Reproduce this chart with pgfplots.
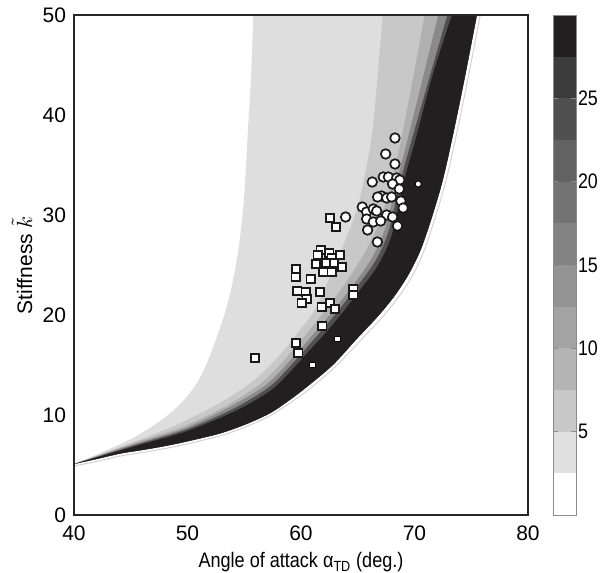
\documentclass[border=0pt]{standalone}
\usepackage{pgfplots}
\pgfplotsset{compat=1.18}
\usepgfplotslibrary{fillbetween}
\usepackage{fontspec}
\setmainfont{Liberation Sans}
\definecolor{cA}{RGB}{222,222,222}
\definecolor{cB}{RGB}{200,200,200}
\definecolor{cC}{RGB}{176,176,176}
\definecolor{cD}{RGB}{138,138,138}
\definecolor{cE}{RGB}{80,80,80}
\definecolor{cF}{RGB}{35,31,32}
\newcommand{\fs}{\fontsize{10.5}{12}\selectfont}
\begin{document}
\begin{tikzpicture}
\begin{axis}[
  name=main,
  scale only axis, width=227pt, height=250pt,
  xmin=40, xmax=80, ymin=0, ymax=50,
  xtick={40,50,60,70,80}, ytick={0,10,20,30,40,50},
  tick style={draw=none},
  axis on top,
  axis line style={line width=0.8pt, black!85},
  /pgf/number format/assume math mode=true,
  ticklabel style={font=\fs},
  xticklabel style={yshift=-1.8pt},
  yticklabel style={xshift=-0.5pt},
  xlabel={Angle of attack α\textsubscript{TD} (deg.)},
  ylabel={Stiffness $\tilde{k}$},
  xlabel style={font=\fs, at={(axis description cs:0.5,0)}, anchor=base, yshift=-26.5pt, xscale=0.86},
  ylabel style={font=\fs, at={(axis description cs:-0.1145,0.5)}, anchor=center},
]
% boundary curves
\addplot[draw=none, smooth, tension=0.5, name path=R] coordinates {
 (40,5.1)(42,5.6)(44.1,6.15)(46.3,6.55)(48.5,7.0)(50.7,7.55)(53,8.2)(55.2,9.1)(57.3,10.2)(59,11.5)(60.5,12.8)(62.8,15.0)(64.9,17.6)(66.8,19.9)(68.3,22.0)(69.5,24.1)(70.5,26.4)(71.4,29.3)(72.4,33.1)(73.2,37)(74.3,43)(75.5,50)};
\addplot[draw=none, smooth, tension=0.6, name path=L1] coordinates {
 (40,5.1)(41.3,5.7)(42.6,6.35)(44.1,7.1)(45.6,7.95)(47,8.95)(48.4,10.1)(49.6,11.4)(50.6,12.8)(51.4,14.4)(52.1,16.3)(52.8,18.5)(53.5,21)(54.1,24)(54.6,27.5)(55.0,32)(55.3,38)(55.6,44)(55.8,50)};
\addplot[draw=none, smooth, tension=0.5, name path=L2] coordinates {
 (40,5.1)(45,7.2)(49,9.0)(53,11.3)(56,13.6)(58.3,16.2)(59.9,18.5)(61.2,20.5)(63.2,25.5)(64.9,30.5)(65.8,35)(66.4,39.5)(67.2,50)};
\addplot[draw=none, smooth, tension=0.5, name path=L3] coordinates {
 (40,5.1)(45,7.1)(49.5,8.8)(53.4,10.9)(56.5,13.2)(58.6,15.6)(60.6,18.3)(62.1,20.4)(63.8,23)(65.5,26)(66.9,29.2)(67.9,33.1)(69.0,38.5)(70.9,50)};
\addplot[draw=none, smooth, tension=0.5, name path=L4] coordinates {
 (40,5.1)(45.2,7.05)(49.8,8.7)(53.7,10.8)(56.9,13.0)(59.0,15.4)(61.1,18.1)(62.6,20.1)(64.4,22.7)(66.2,25.6)(67.4,28.6)(68.4,33.1)(69.6,38.5)(72.1,50)};
\addplot[draw=none, smooth, tension=0.5, name path=L5] coordinates {
 (40,5.1)(45.4,7.0)(50,8.6)(54,10.6)(57.2,12.8)(59.3,15.2)(61.4,17.9)(62.9,19.9)(64.7,22.5)(66.5,25.3)(67.7,28.3)(68.7,33.1)(70.0,38.5)(72.9,50)};
\addplot[draw=none, smooth, tension=0.5, name path=B] coordinates {
 (40,5.1)(45.6,6.95)(50,8.4)(54.4,10.5)(57.5,12.6)(59.6,15.0)(60.7,16.4)(61.7,17.6)(63.2,19.6)(65,22.2)(66.8,25.0)(68.0,28.0)(69.0,33.1)(70.2,38)(71.6,44)(73.3,50)};
\addplot[fill=cA, draw=none] fill between[of=L1 and R];
\addplot[fill=cB, draw=none] fill between[of=L2 and R];
\addplot[fill=cC, draw=none] fill between[of=L3 and R];
\addplot[fill=cD, draw=none] fill between[of=L4 and R];
\addplot[fill=cE, draw=none] fill between[of=L5 and R];
\addplot[fill=cF, draw=none] fill between[of=B and R];
% faint outer edge line
\addplot[gray!35, line width=0.5pt, smooth, tension=0.5] coordinates {
 (40,4.9)(42,5.35)(44.1,5.9)(46.3,6.3)(48.5,6.75)(50.7,7.3)(53,7.95)(55.2,8.85)(57.3,9.95)(59.1,11.25)(60.7,12.55)(63.0,14.8)(65.2,17.4)(67.1,19.7)(68.6,21.8)(69.8,23.9)(70.8,26.3)(71.7,29.3)(72.7,33.1)(73.5,37)(74.6,43)(75.8,50)};
% squares
\addplot[only marks, mark=square*, mark size=2.1pt, mark options={fill=white, draw=black!90, line width=0.85pt}] coordinates {
 (61.73,26.5)(62.49,26.2)(61.47,26.0)(63.44,26.0)(62.7,25.7)(61.32,25.1)(62.2,25.2)(62.9,25.2)(63.6,24.8)(61.97,24.3)(62.7,24.3)
 (59.56,24.6)(59.53,23.8)(60.85,23.6)(59.68,22.4)(60.41,22.3)(61.67,22.3)(64.6,22.6)(64.6,22.0)(60.5,21.6)(60.06,21.2)(62.56,21.2)
 (61.82,20.8)(63.0,20.6)(61.88,18.9)(59.56,17.2)(59.77,16.2)(55.95,15.7)(62.55,29.7)(63.08,28.8)};
% circles
\addplot[only marks, mark=*, mark size=2.4pt, mark options={fill=white, draw=black!90, line width=0.85pt}] coordinates {
 (68.28,37.7)(67.46,36.1)(68.28,35.1)(66.28,33.3)(67.25,33.8)(67.7,33.8)(68.43,33.7)(68.7,33.5)(68.07,33.1)(68.66,32.6)
 (67.1,31.9)(66.75,31.8)(67.55,31.7)(67.99,31.8)(68.8,31.4)(69.0,30.7)(65.4,30.8)(65.78,30.3)(66.37,30.6)(66.67,30.4)
 (67.55,30.0)(68.07,29.8)(65.78,29.6)(66.37,29.3)(67.02,29.4)(68.5,28.9)(65.87,28.5)(66.73,27.3)(63.93,29.8)};
% white markers in the dark band
\addplot[only marks, mark=square*, mark size=1.3pt, mark options={fill=white, draw=none}] coordinates {(63.2,17.6)(61.0,15.0)};
\addplot[only marks, mark=*, mark size=1.5pt, mark options={fill=white, draw=none}] coordinates {(70.33,33.1)};
\end{axis}
% colour bar
\begin{axis}[
  at={(main.north east)}, anchor=north west, xshift=12.5pt,
  scale only axis, width=11.5pt, height=250pt,
  xmin=0, xmax=1, ymin=0, ymax=30,
  xtick=\empty, ytick={5,10,15,20,25},
  yticklabel pos=right,
  tick align=inside, major tick length=2.5pt,
  tick style={black!45, line width=0.4pt},
  axis line style={black!45, line width=0.4pt},
  axis on top,
  /pgf/number format/assume math mode=true,
  yticklabel style={font=\fs, xshift=-2pt, xscale=0.85},
]
\addplot[fill=white, draw=none] coordinates {(0,0)(1,0)(1,2.5)(0,2.5)} -- cycle;
\addplot[fill={rgb,255:red,224;green,224;blue,224}, draw=none] coordinates {(0,2.5)(1,2.5)(1,5)(0,5)} -- cycle;
\addplot[fill={rgb,255:red,200;green,200;blue,200}, draw=none] coordinates {(0,5)(1,5)(1,7.5)(0,7.5)} -- cycle;
\addplot[fill={rgb,255:red,180;green,180;blue,180}, draw=none] coordinates {(0,7.5)(1,7.5)(1,10)(0,10)} -- cycle;
\addplot[fill={rgb,255:red,163;green,163;blue,163}, draw=none] coordinates {(0,10)(1,10)(1,12.5)(0,12.5)} -- cycle;
\addplot[fill={rgb,255:red,147;green,147;blue,147}, draw=none] coordinates {(0,12.5)(1,12.5)(1,15)(0,15)} -- cycle;
\addplot[fill={rgb,255:red,131;green,131;blue,131}, draw=none] coordinates {(0,15)(1,15)(1,17.5)(0,17.5)} -- cycle;
\addplot[fill={rgb,255:red,115;green,115;blue,115}, draw=none] coordinates {(0,17.5)(1,17.5)(1,20)(0,20)} -- cycle;
\addplot[fill={rgb,255:red,98;green,98;blue,98}, draw=none] coordinates {(0,20)(1,20)(1,22.5)(0,22.5)} -- cycle;
\addplot[fill={rgb,255:red,80;green,80;blue,80}, draw=none] coordinates {(0,22.5)(1,22.5)(1,25)(0,25)} -- cycle;
\addplot[fill={rgb,255:red,60;green,60;blue,60}, draw=none] coordinates {(0,25)(1,25)(1,27.5)(0,27.5)} -- cycle;
\addplot[fill={rgb,255:red,35;green,31;blue,32}, draw=none] coordinates {(0,27.5)(1,27.5)(1,30)(0,30)} -- cycle;
\end{axis}
\pgfresetboundingbox
\path ([xshift=-37pt,yshift=-29pt]main.south west) rectangle ([xshift=263.5pt,yshift=257.5pt]main.south west);
\end{tikzpicture}
\end{document}
